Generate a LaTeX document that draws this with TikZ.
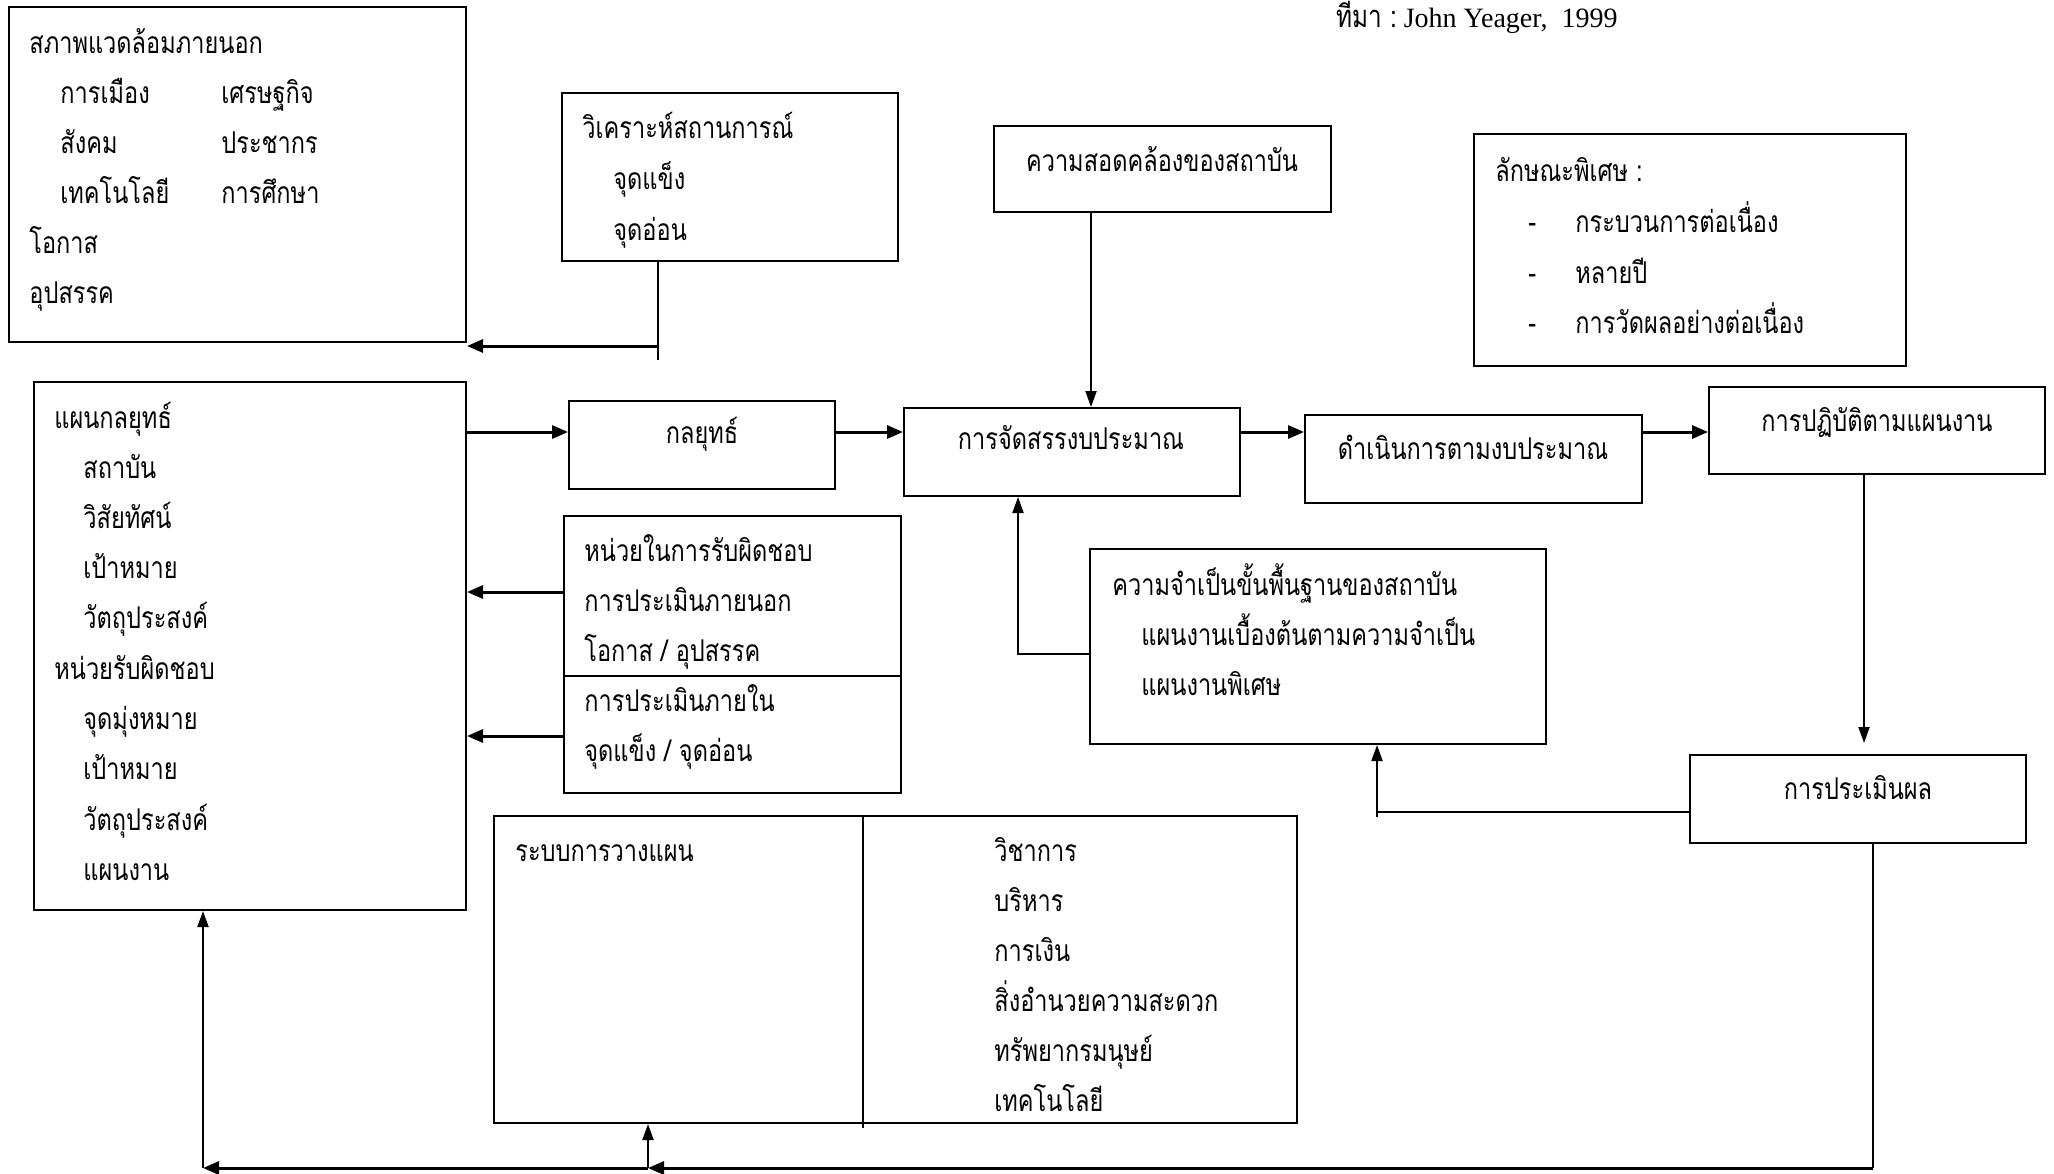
\documentclass[tikz,border=0pt]{standalone}
\usepackage{fontspec}
\setmainfont{Liberation Serif}
\newfontfamily\thai[Script=Thai,FakeStretch=0.785]{Loma}
\usetikzlibrary{fit,arrows.meta}
\newcommand\txtline[4]{\node[txt] (#1) at (#2,#3) {#4};}
\begin{document}
\begin{tikzpicture}[x=0.5pt,y=-0.5pt,
  box/.style={draw, line width=1pt, inner sep=0pt},
  txt/.style={anchor=base west, inner sep=0pt, font=\thai\fontsize{15}{15}\selectfont},
  ctxt/.style={txt, anchor=base},
  thickarr/.style={line width=1.5pt, -{Triangle[length=8pt,width=6.5pt]}},
  thinarr/.style={line width=1pt, -{Triangle[length=8pt,width=5.5pt]}},
  thinline/.style={line width=1pt},
  thickline/.style={line width=1.5pt},
  divline/.style={line width=0.8pt}]
\useasboundingbox (0,0) rectangle (2054,1173);

% boxes
\node[box, fit={(9,7)(466,342)}] (env) {};
\node[box, fit={(562,93)(898,261)}] (anl) {};
\node[box, fit={(994,126)(1331,212)}] (cons) {};
\node[box, fit={(1474,134)(1906,366)}] (spec) {};
\node[box, fit={(34,382)(466,910)}] (sp) {};
\node[box, fit={(569,401)(835,489)}] (strat) {};
\node[box, fit={(904,408)(1240,496)}] (bud) {};
\node[box, fit={(1305,415)(1642,503)}] (impl) {};
\node[box, fit={(1709,387)(2045,474)}] (exec) {};
\node[box, fit={(1690,755)(2026,843)}] (eval) {};
\node[box, fit={(1090,549)(1546,744)}] (need) {};
\node[box, fit={(564,516)(901,793)}] (resp) {};
\node[box, fit={(494,816)(1297,1123)}] (plan) {};

% dividers
\coordinate (rdiv) at (0,676);
\draw[divline] (resp.west |- rdiv) -- (resp.east |- rdiv);
\coordinate (pdiv) at (863,1128);
\draw[divline] (pdiv |- plan.north) -- (pdiv);

% title
\node[anchor=base west, inner sep=0pt] (title) at (1336,27)
  {{\thai\fontsize{15.5}{15}\selectfont ที่มา :} \fontsize{14}{14}\selectfont John Yeager,\ \ 1999};

% environment box text
\txtline{e1}{29}{53}{สภาพแวดล้อมภายนอก}
\txtline{e2}{60}{103}{การเมือง}
\txtline{e3}{221}{103}{เศรษฐกิจ}
\txtline{e4}{60}{153}{สังคม}
\txtline{e5}{221}{153}{ประชากร}
\txtline{e6}{60}{203}{เทคโนโลยี}
\txtline{e7}{221}{203}{การศึกษา}
\txtline{e8}{29}{253}{โอกาส}
\txtline{e9}{29}{303}{อุปสรรค}

% analysis
\txtline{a1}{582}{138}{วิเคราะห์สถานการณ์}
\txtline{a2}{613}{189}{จุดแข็ง}
\txtline{a3}{613}{240}{จุดอ่อน}

% consistency
\node[ctxt] (c1) at (1162,171) {ความสอดคล้องของสถาบัน};

% special
\txtline{s1}{1495}{181}{ลักษณะพิเศษ :}
\txtline{s2}{1528}{232}{-}
\txtline{s3}{1575}{232}{กระบวนการต่อเนื่อง}
\txtline{s4}{1528}{283}{-}
\txtline{s5}{1575}{283}{หลายปี}
\txtline{s6}{1528}{333}{-}
\txtline{s7}{1575}{333}{การวัดผลอย่างต่อเนื่อง}

% strategic plan
\txtline{p1}{54}{428}{แผนกลยุทธ์}
\txtline{p2}{83}{478}{สถาบัน}
\txtline{p3}{83}{528}{วิสัยทัศน์}
\txtline{p4}{83}{578}{เป้าหมาย}
\txtline{p5}{83}{628}{วัตถุประสงค์}
\txtline{p6}{54}{679}{หน่วยรับผิดชอบ}
\txtline{p7}{83}{729}{จุดมุ่งหมาย}
\txtline{p8}{83}{779}{เป้าหมาย}
\txtline{p9}{83}{830}{วัตถุประสงค์}
\txtline{p10}{83}{880}{แผนงาน}

% single-line boxes
\node[ctxt] (t1) at (702,443) {กลยุทธ์};
\node[ctxt] (t2) at (1071,449) {การจัดสรรงบประมาณ};
\node[ctxt] (t3) at (1473,459) {ดำเนินการตามงบประมาณ};
\node[ctxt] (t4) at (1877,431) {การปฏิบัติตามแผนงาน};
\node[ctxt] (t5) at (1858,799) {การประเมินผล};

% needs
\txtline{n1}{1112}{595}{ความจำเป็นขั้นพื้นฐานของสถาบัน}
\txtline{n2}{1141}{645}{แผนงานเบื้องต้นตามความจำเป็น}
\txtline{n3}{1141}{695}{แผนงานพิเศษ}

% responsibility
\txtline{r1}{584}{561}{หน่วยในการรับผิดชอบ}
\txtline{r2}{584}{611}{การประเมินภายนอก}
\txtline{r3}{584}{661}{โอกาส / อุปสรรค}
\txtline{r4}{584}{711}{การประเมินภายใน}
\txtline{r5}{584}{761}{จุดแข็ง / จุดอ่อน}

% planning
\txtline{l1}{515}{861}{ระบบการวางแผน}
\txtline{l2}{994}{861}{วิชาการ}
\txtline{l3}{994}{911}{บริหาร}
\txtline{l4}{994}{961}{การเงิน}
\txtline{l5}{994}{1011}{สิ่งอำนวยความสะดวก}
\txtline{l6}{994}{1061}{ทรัพยากรมนุษย์}
\txtline{l7}{994}{1111}{เทคโนโลยี}

% connectors
\coordinate (row) at (0,432);
\draw[thickarr] (sp.east |- row) -- (strat.west |- row);
\draw[thickarr] (strat.east |- row) -- (bud.west |- row);
\draw[thickarr] (bud.east |- row) -- (impl.west |- row);
\draw[thickarr] (impl.east |- row) -- (exec.west |- row);

\coordinate (anlx) at (658,346);
\coordinate (anlend) at (658,360);
\draw[thinline] (anlx |- anl.south) -- (anlend);
\draw[thickarr] (anlx) -- (env.east |- anlx);

\coordinate (consx) at (1091,0);
\draw[thinarr] (consx |- cons.south) -- (consx |- bud.north);

\coordinate (ra1) at (0,592);
\coordinate (ra2) at (0,736);
\draw[thickarr] (resp.west |- ra1) -- (sp.east |- ra1);
\draw[thickarr] (resp.west |- ra2) -- (sp.east |- ra2);

\coordinate (nb) at (1018,654);
\draw[thinarr] (need.west |- nb) -- (nb) -- (nb |- bud.south);

\coordinate (exx) at (1864,743);
\draw[thinarr] (exx |- exec.south) -- (exx);

\coordinate (en) at (1377,812);
\coordinate (enend) at (1377,817);
\draw[thinline] (eval.west |- en) -- (en) -- (enend);
\draw[thinarr] (en) -- (en |- need.south);

\coordinate (ebx) at (1873,1168);
\coordinate (bmid) at (648,1168);
\coordinate (bleft) at (203,1168);
\draw[thinline] (ebx |- eval.south) -- (ebx);
\draw[thickarr] (ebx) -- (bmid);
\draw[thickarr] (bmid) -- (bleft);
\draw[thinarr] (bleft) -- (bleft |- sp.south);
\draw[thinarr] (bmid) -- (bmid |- plan.south);
\end{tikzpicture}
\end{document}
